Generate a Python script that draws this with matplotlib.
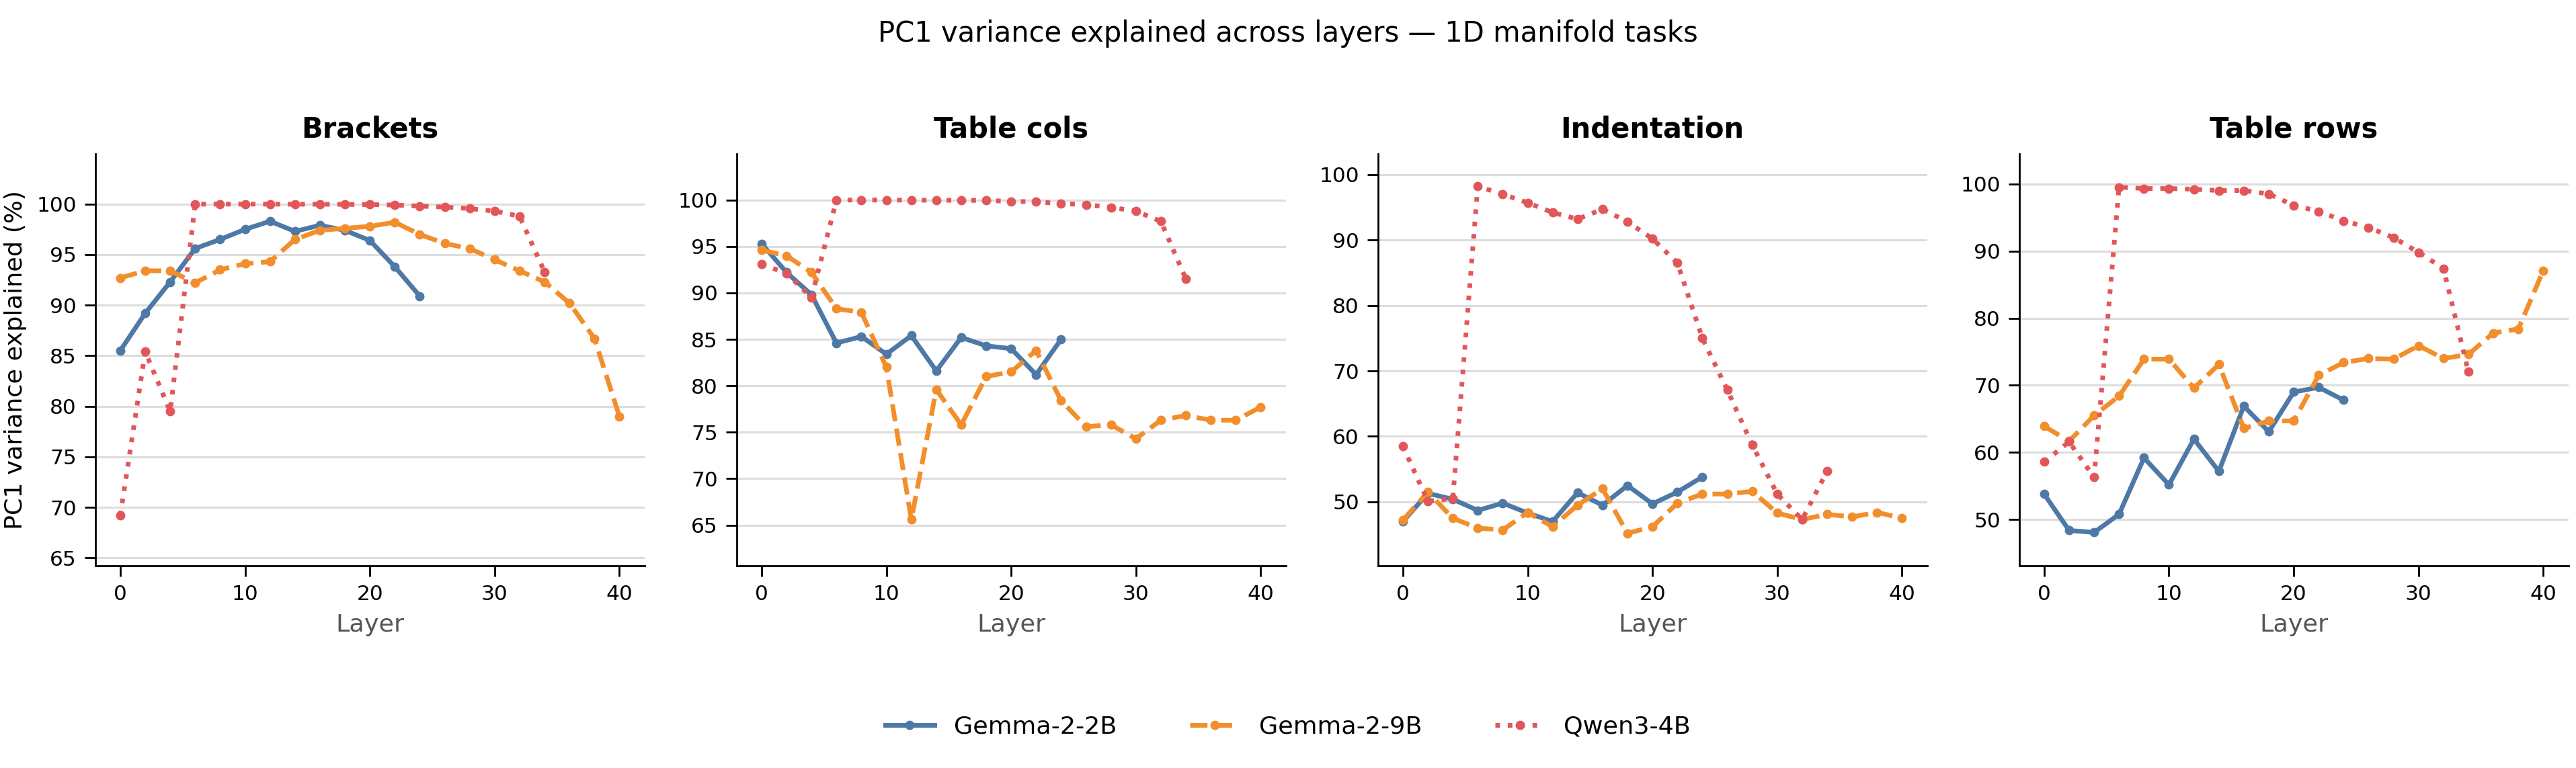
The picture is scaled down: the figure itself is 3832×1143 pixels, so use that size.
import numpy as np
import matplotlib
matplotlib.use('Agg')
import matplotlib.pyplot as plt

tasks = ['Brackets', 'Table cols', 'Indentation', 'Table rows']
models = ['Gemma-2-2B', 'Gemma-2-9B', 'Qwen3-4B']

layers_2b = list(range(0, 25, 2))
layers_9b = list(range(0, 41, 2))
layers_qw = list(range(0, 35, 2))

# Brackets
brackets_2b = [85.5, 89.2, 92.3, 95.6, 96.5, 97.5, 98.3, 97.3, 97.9, 97.4, 96.4, 93.8, 90.9]
brackets_9b = [92.7, 93.4, 93.4, 92.2, 93.5, 94.1, 94.3, 96.5, 97.4, 97.6, 97.8, 98.2, 97.0,
               96.1, 95.6, 94.5, 93.4, 92.3, 90.2, 86.7, 79.0]
brackets_qw = [69.2, 85.4, 79.5, 99.99, 99.99, 99.99, 99.99, 99.98, 99.98, 99.97, 99.95, 99.9,
               99.8, 99.7, 99.55, 99.3, 98.8, 93.3]

# Table cols
cols_2b = [95.3, 92.2, 89.8, 84.6, 85.3, 83.4, 85.4, 81.6, 85.2, 84.3, 84.0, 81.2, 85.0]
cols_9b = [94.6, 94.0, 92.2, 88.3, 87.9, 82.0, 65.6, 79.6, 75.8, 81.0, 81.5, 83.8, 78.4,
           75.6, 75.8, 74.3, 76.3, 76.8, 76.3, 76.3, 77.7]
cols_qw = [93.1, 92.1, 89.5, 99.99, 99.99, 99.99, 99.98, 99.97, 99.96, 99.95, 99.85, 99.8,
           99.6, 99.5, 99.2, 98.8, 97.7, 91.5]

# Indentation
indent_2b = [47.0, 51.3, 50.4, 48.7, 49.8, 48.3, 47.0, 51.4, 49.5, 52.5, 49.7, 51.5, 53.8]
indent_9b = [47.2, 51.5, 47.5, 46.0, 45.7, 48.4, 46.2, 49.5, 52.0, 45.2, 46.2, 49.8, 51.2,
             51.2, 51.6, 48.3, 47.3, 48.1, 47.7, 48.4, 47.5]
indent_qw = [58.5, 50.1, 50.5, 98.2, 97.0, 95.7, 94.2, 93.2, 94.7, 92.8, 90.2, 86.5, 75.0,
             67.1, 58.7, 51.2, 47.3, 54.7]

# Table rows
rows_2b = [53.8, 48.4, 48.1, 50.8, 59.2, 55.2, 62.0, 57.2, 66.9, 63.1, 69.0, 69.7, 67.8]
rows_9b = [63.9, 61.7, 65.5, 68.4, 73.9, 73.9, 69.6, 73.1, 63.6, 64.7, 64.7, 71.5, 73.4,
           74.0, 73.9, 75.9, 74.0, 74.6, 77.8, 78.4, 87.1]
rows_qw = [58.6, 61.6, 56.3, 99.5, 99.3, 99.3, 99.2, 99.0, 99.0, 98.5, 96.8, 95.9, 94.5,
           93.5, 92.0, 89.8, 87.4, 72.0]

task_data = [
    (brackets_2b, brackets_9b, brackets_qw),
    (cols_2b, cols_9b, cols_qw),
    (indent_2b, indent_9b, indent_qw),
    (rows_2b, rows_9b, rows_qw),
]
model_layers = [layers_2b, layers_9b, layers_qw]
colors = ['#4e79a7', '#f28e2b', '#e15759']
styles = ['-', '--', ':']

fig, axes = plt.subplots(1, 4, figsize=(15.328, 4.572), dpi=250)
fig.subplots_adjust(left=0.037, right=0.997, top=0.80, bottom=0.263, wspace=0.168)

for ax, task, series in zip(axes, tasks, task_data):
    for m, (name, xs, ys) in enumerate(zip(models, model_layers, series)):
        ax.plot(xs, ys, linestyle=styles[m], color=colors[m], lw=2.0,
                marker='o', markersize=3, label=name)
    allv = np.concatenate([np.array(s) for s in series])
    ax.set_ylim(allv.min() - 5, allv.max() + 5)
    ax.set_title(task, fontsize=12, fontweight='bold', pad=7)
    ax.set_xlabel('Layer', fontsize=10.5, color='#555555')
    ax.set_xticks([0, 10, 20, 30, 40])
    ax.grid(axis='y', color='#dddddd', lw=0.9)
    ax.set_axisbelow(True)
    ax.spines['top'].set_visible(False)
    ax.spines['right'].set_visible(False)
    ax.tick_params(labelsize=9, length=4.5)

axes[0].set_ylabel('PC1 variance explained (%)', fontsize=10.5)

handles, labels = axes[0].get_legend_handles_labels()
fig.legend(handles, labels, loc='lower center', ncol=3, frameon=False,
           fontsize=10.5, bbox_to_anchor=(0.5, 0.01), columnspacing=3)
fig.suptitle('PC1 variance explained across layers — 1D manifold tasks', fontsize=12, y=0.975)

fig.savefig('out.png', dpi=250)
